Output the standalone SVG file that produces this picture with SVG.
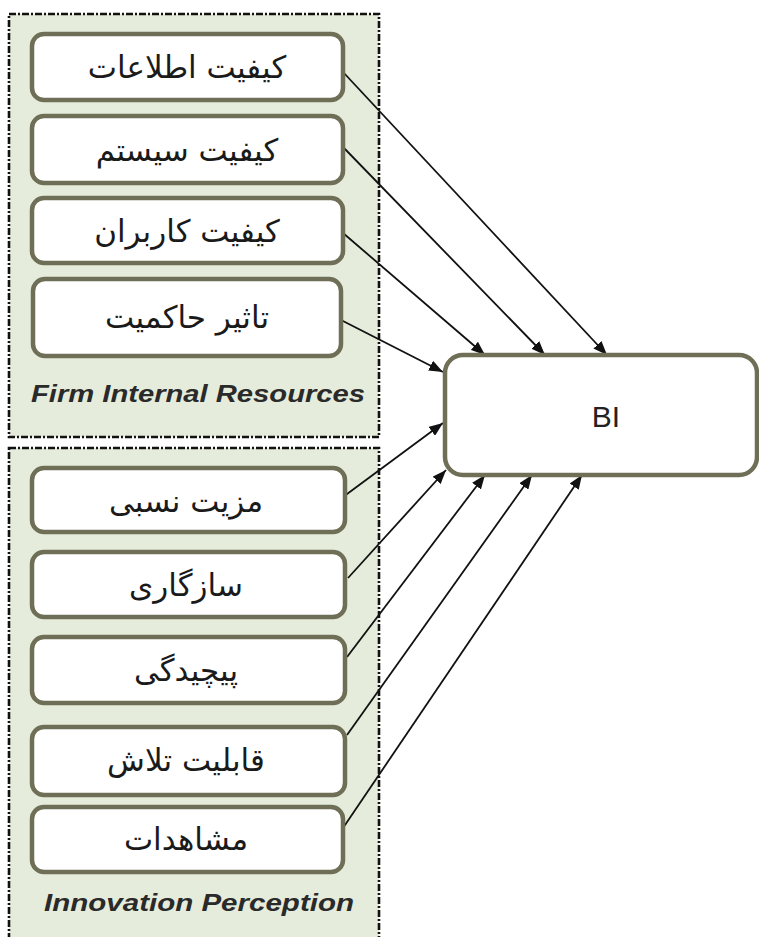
<svg xmlns="http://www.w3.org/2000/svg" width="759" height="937" viewBox="0 0 759 937">
  <style>
    .panel { fill: #e6ecdb; stroke: #111; stroke-width: 2.6; stroke-dasharray: 7 2 2 2; }
    .box { fill: #ffffff; stroke: #6f6f57; stroke-width: 4.5; }
    .fa { font-family: "DejaVu Sans", "Noto Sans", sans-serif; font-size: 31px; fill: #1a1a1a; text-anchor: middle; direction: rtl; }
    .group-label { font-family: "Liberation Sans", Arial, sans-serif; font-size: 23px; font-weight: bold; font-style: italic; fill: #2a2a2a; text-anchor: middle; }
    .bi { font-family: "Liberation Sans", Arial, sans-serif; font-size: 30px; fill: #222; text-anchor: middle; }
    .edge { stroke: #111; stroke-width: 1.8; fill: none; marker-end: url(#arrow); }
  </style>
  <defs>
    <marker id="arrow" viewBox="0 0 14 11" refX="14" refY="5.5" markerWidth="14" markerHeight="11" markerUnits="userSpaceOnUse" orient="auto">
      <path d="M0,0 L14,5.5 L0,11 Z" fill="#111"/>
    </marker>
  </defs>

  <rect width="759" height="937" fill="#ffffff"/>

  <!-- group panels -->
  <g id="panel-firm">
    <rect class="panel" x="9" y="14" width="370" height="423"/>
    <text class="group-label" x="198" y="402" textLength="334" lengthAdjust="spacingAndGlyphs">Firm Internal Resources</text>
  </g>
  <g id="panel-innovation">
    <rect class="panel" x="9" y="448" width="370" height="500"/>
    <text class="group-label" x="199" y="911" textLength="310" lengthAdjust="spacingAndGlyphs">Innovation Perception</text>
  </g>

  <!-- connectors -->
  <g id="connectors">
    <line class="edge" x1="343" y1="72" x2="607" y2="355"/>
    <line class="edge" x1="343" y1="147" x2="545" y2="355"/>
    <line class="edge" x1="343" y1="233" x2="485" y2="355"/>
    <line class="edge" x1="341" y1="320" x2="443" y2="372"/>
    <line class="edge" x1="343" y1="497" x2="443" y2="423"/>
    <line class="edge" x1="348" y1="578" x2="446" y2="470"/>
    <line class="edge" x1="347" y1="657" x2="485" y2="475"/>
    <line class="edge" x1="347" y1="735" x2="532" y2="475"/>
    <line class="edge" x1="343" y1="828" x2="582" y2="475"/>
  </g>

  <!-- source nodes -->
  <g id="n-info-quality">
    <rect class="box" x="32" y="34" width="311" height="66" rx="12"/>
    <text class="fa" x="187" y="78">کیفیت اطلاعات</text>
  </g>
  <g id="n-system-quality">
    <rect class="box" x="32" y="116" width="311" height="67" rx="12"/>
    <text class="fa" x="187" y="161">کیفیت سیستم</text>
  </g>
  <g id="n-user-quality">
    <rect class="box" x="32" y="198" width="311" height="65" rx="12"/>
    <text class="fa" x="187" y="242">کیفیت کاربران</text>
  </g>
  <g id="n-governance">
    <rect class="box" x="33" y="279" width="308" height="77" rx="12"/>
    <text class="fa" x="187" y="328">تاثیر حاکمیت</text>
  </g>
  <g id="n-relative-advantage">
    <rect class="box" x="32" y="468" width="313" height="64" rx="12"/>
    <text class="fa" x="186" y="512">مزیت نسبی</text>
  </g>
  <g id="n-compatibility">
    <rect class="box" x="32" y="552" width="313" height="65" rx="12"/>
    <text class="fa" x="186" y="596">سازگاری</text>
  </g>
  <g id="n-complexity">
    <rect class="box" x="32" y="637" width="313" height="66" rx="12"/>
    <text class="fa" x="186" y="681">پیچیدگی</text>
  </g>
  <g id="n-trialability">
    <rect class="box" x="32" y="727" width="313" height="68" rx="12"/>
    <text class="fa" x="186" y="771">قابلیت تلاش</text>
  </g>
  <g id="n-observability">
    <rect class="box" x="32" y="807" width="311" height="65" rx="12"/>
    <text class="fa" x="186" y="850">مشاهدات</text>
  </g>

  <!-- target node -->
  <g id="n-bi">
    <rect class="box" x="445" y="355" width="312" height="120" rx="18"/>
    <text class="bi" x="606" y="427">BI</text>
  </g>
</svg>
